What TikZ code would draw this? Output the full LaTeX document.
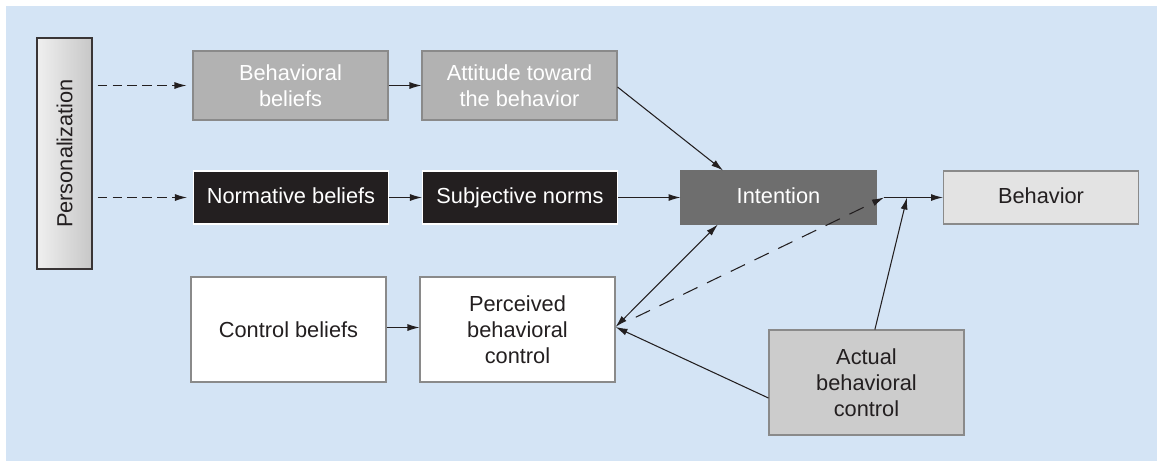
\documentclass[tikz,border=0pt]{standalone}
\usepackage{fontspec}
\setmainfont{Liberation Sans}
\usepackage{tikz}
\usetikzlibrary{arrows.meta}

\definecolor{bgblue}{HTML}{D4E4F5}
\definecolor{ink}{HTML}{231F20}
\definecolor{rim}{HTML}{8A8A8A}

\begin{document}
\begin{tikzpicture}[x=0.02cm, y=-0.02cm,
	every node/.style={font=\fontsize{12.4}{14.7}\selectfont, align=center, inner sep=0pt},
	box/.style={draw=rim, line width=0.6pt, minimum width=3.9cm},
	thin box/.style={box, minimum height=1.06cm, text height=0.72em, text depth=0pt},
	mid box/.style={box, minimum height=1.38cm},
	tall box/.style={box, minimum height=2.1cm},
	arr/.style={line width=0.6pt, draw=ink, -{Latex[length=2.4mm,width=1.4mm]}},
	dasharr/.style={arr, dash pattern=on 5.5pt off 3pt}]

	\useasboundingbox (0,0) rectangle (1157,461);
	\fill[white] (0,0) rectangle (1157,461);
	\fill[bgblue] (6,6) rectangle (1157,461);

	\node[draw=ink!90, line width=0.7pt, left color=black!6, right color=black!22,
		minimum width=1.1cm, minimum height=4.62cm] (pers) at (64.5,153.5) {};
	\node[rotate=90, text=ink] at (pers.center) {Personalization};

	\node[mid box, fill=black!30, text=white] (bb) at (290.5,85.5) {Behavioral\\beliefs};
	\node[mid box, fill=black!30, text=white] (att) at (519.5,85.5) {Attitude toward\\the behavior};

	\node[thin box, draw=white, fill=ink, text=white] (nb) at (291,197.5) {Normative beliefs};
	\node[thin box, draw=white, fill=ink, text=white] (sn) at (520,197.5) {Subjective norms};
	\node[thin box, draw=black!57, fill=black!57, text=white] (intent) at (778.5,197.5) {Intention};
	\node[thin box, fill=black!11, text=ink] (behav) at (1041,197.5) {Behavior};

	\node[tall box, fill=white, text=ink] (cb) at (288.5,329.5) {Control beliefs};
	\node[tall box, fill=white, text=ink] (pbc) at (517.5,329.5) {Perceived\\behavioral\\control};
	\node[tall box, fill=black!20, text=ink] (abc) at (866.5,382.5) {Actual\\behavioral\\control};

	\coordinate (jn) at (884,197.5);
	\coordinate (jb) at (907,197.5);

	\draw[dasharr, shorten <=0.1cm, shorten >=0.12cm] (pers.east |- bb.west) -- (bb.west);
	\draw[dasharr, shorten <=0.1cm, shorten >=0.12cm] (pers.east |- nb.west) -- (nb.west);

	\draw[arr] (bb) -- (att);
	\draw[arr] (nb) -- (sn);
	\draw[arr] (att.east |- 0,87) -- (intent.154);
	\draw[arr] (sn) -- (intent);
	\draw[arr] (jn) -- (behav.west);

	\draw[arr] (cb.east |- 0,327.5) -- (pbc.west |- 0,327.5);
	\draw[arr, {Latex[length=2.4mm,width=1.4mm]}-{Latex[length=2.4mm,width=1.4mm]}] (pbc.east |- 0,327) -- (intent.204);
	\draw[arr] (abc.189) -- (pbc.east |- 0,327);
	\draw[arr] (abc.81) -- (jb);
	\draw[arr, dash pattern=on 9pt off 6pt, shorten <=0.45cm] (pbc.east |- 0,327) -- (jn);

\end{tikzpicture}
\end{document}
